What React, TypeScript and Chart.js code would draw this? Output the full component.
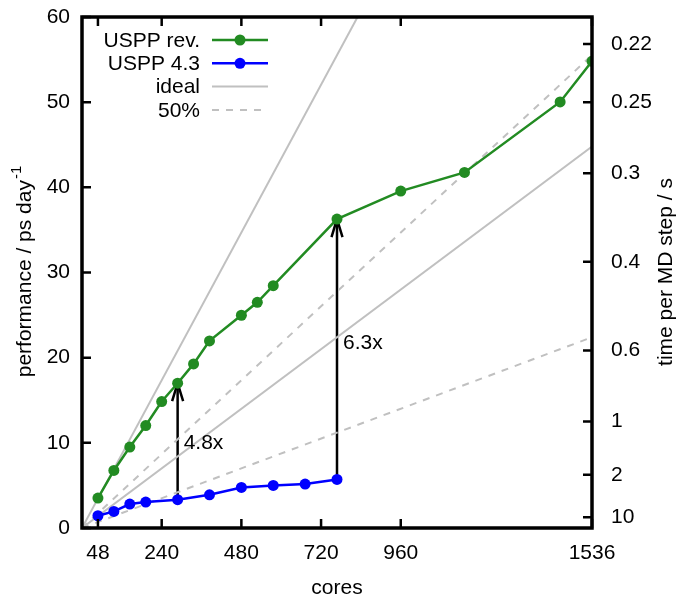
import React, { useEffect, useRef } from "react";
import { Chart, registerables } from "chart.js";

Chart.register(...registerables);

// ---- data ----
const revCores = [48, 96, 144, 192, 240, 288, 336, 384, 480, 528, 576, 768, 960, 1152, 1440, 1536];
const revPerf = [3.52, 6.76, 9.5, 12.03, 14.85, 17.0, 19.27, 21.97, 24.98, 26.5, 28.45, 36.27, 39.56, 41.75, 50.03, 54.8];
const oldCores = [48, 96, 144, 192, 288, 384, 480, 576, 672, 768];
const oldPerf = [1.44, 1.95, 2.81, 3.05, 3.32, 3.9, 4.76, 5.0, 5.16, 5.7];
const xTickValues = [48, 240, 480, 720, 960, 1536];
const leftTickValues = [0, 10, 20, 30, 40, 50, 60];
const timeTicks = [0.22, 0.25, 0.3, 0.4, 0.6, 1, 2, 10];
const timeFactor = 12.5; // performance = timeFactor / time per step
const idealPerfAt48 = [3.47, 1.4]; // USPP rev., USPP 4.3
const refCores = [0, 1536];
const speedupCores = [288, 768];
const speedupLabels = ["4.8x", "6.3x"];
const speedupLabelPerf = [10.0, 21.7];

const GREEN = "#228b22";
const BLUE = "#0000ff";
const GRAY = "#c0c0c0";
const FONT = "'Liberation Sans', Arial, sans-serif";
const FS = 21;

function refLine(base: number, frac: number) {
  return refCores.map((c) => ({ x: c, y: (base * frac * c) / 48 }));
}

const legendItems = [
  { label: "USPP rev.", color: GREEN, marker: true, dash: [] as number[] },
  { label: "USPP 4.3", color: BLUE, marker: true, dash: [] as number[] },
  { label: "ideal", color: GRAY, marker: false, dash: [] as number[] },
  { label: "50%", color: GRAY, marker: false, dash: [7, 7] },
];

const decorPlugin = {
  id: "decor",
  beforeDatasetsDraw(chart: any) {
    const ctx = chart.ctx;
    const xs = chart.scales.x;
    const ys = chart.scales.y;
    ctx.save();
    ctx.strokeStyle = "#000";
    ctx.lineWidth = 2.5;
    speedupCores.forEach((c) => {
      const lo = oldPerf[oldCores.indexOf(c)];
      const hi = revPerf[revCores.indexOf(c)];
      const x = xs.getPixelForValue(c);
      const y1 = ys.getPixelForValue(lo);
      const y2 = ys.getPixelForValue(hi);
      ctx.beginPath();
      ctx.moveTo(x, y1);
      ctx.lineTo(x, y2);
      ctx.stroke();
      ctx.beginPath();
      ctx.moveTo(x - 5.5, y2 + 18);
      ctx.lineTo(x, y2);
      ctx.lineTo(x + 5.5, y2 + 18);
      ctx.stroke();
    });
    ctx.restore();
  },
  afterDraw(chart: any) {
    const ctx = chart.ctx;
    const a = chart.chartArea;
    const xs = chart.scales.x;
    const ys = chart.scales.y;
    const y2s = chart.scales.y2;
    ctx.save();
    // speedup labels
    ctx.fillStyle = "#000";
    ctx.font = `${FS}px ${FONT}`;
    ctx.textAlign = "left";
    ctx.textBaseline = "middle";
    speedupCores.forEach((c, i) => {
      ctx.fillText(speedupLabels[i], xs.getPixelForValue(c) + 6, ys.getPixelForValue(speedupLabelPerf[i]));
    });
    // inward tick marks
    ctx.strokeStyle = "#000";
    ctx.lineWidth = 2.5;
    const tl = 9;
    ctx.beginPath();
    xTickValues.forEach((v) => {
      const x = xs.getPixelForValue(v);
      ctx.moveTo(x, a.bottom);
      ctx.lineTo(x, a.bottom - tl);
      ctx.moveTo(x, a.top);
      ctx.lineTo(x, a.top + tl);
    });
    leftTickValues.forEach((v) => {
      const y = ys.getPixelForValue(v);
      ctx.moveTo(a.left, y);
      ctx.lineTo(a.left + tl, y);
    });
    timeTicks.forEach((t) => {
      const y = y2s.getPixelForValue(timeFactor / t);
      ctx.moveTo(a.right, y);
      ctx.lineTo(a.right - tl, y);
    });
    ctx.stroke();
    // frame
    ctx.lineWidth = 3.5;
    ctx.strokeRect(a.left, a.top, a.right - a.left, a.bottom - a.top);
    // legend
    ctx.font = `${FS}px ${FONT}`;
    ctx.textAlign = "right";
    ctx.textBaseline = "middle";
    legendItems.forEach((it, i) => {
      const y = a.top + 23 + i * 23.3;
      ctx.fillStyle = "#000";
      ctx.fillText(it.label, a.left + 118, y + 1);
      ctx.strokeStyle = it.color;
      ctx.lineWidth = it.marker ? 2.5 : 2;
      ctx.setLineDash(it.dash);
      ctx.beginPath();
      ctx.moveTo(a.left + 130, y);
      ctx.lineTo(a.left + 186, y);
      ctx.stroke();
      ctx.setLineDash([]);
      if (it.marker) {
        ctx.fillStyle = it.color;
        ctx.beginPath();
        ctx.arc(a.left + 158, y, 5.5, 0, Math.PI * 2);
        ctx.fill();
      }
    });
    // axis titles
    ctx.fillStyle = "#000";
    ctx.textAlign = "center";
    ctx.textBaseline = "middle";
    ctx.fillText("cores", (a.left + a.right) / 2, 588);
    // right title
    ctx.save();
    ctx.translate(666, 272);
    ctx.rotate(-Math.PI / 2);
    ctx.fillText("time per MD step / s", 0, 0);
    ctx.restore();
    // left title with superscript
    ctx.save();
    ctx.translate(25, 272);
    ctx.rotate(-Math.PI / 2);
    const main = "performance / ps day";
    const sup = "-1";
    ctx.font = `${FS}px ${FONT}`;
    const w1 = ctx.measureText(main).width;
    ctx.font = `${Math.round(FS * 0.7)}px ${FONT}`;
    const w2 = ctx.measureText(sup).width;
    const start = -(w1 + w2) / 2;
    ctx.textAlign = "left";
    ctx.font = `${FS}px ${FONT}`;
    ctx.fillText(main, start, 0);
    ctx.font = `${Math.round(FS * 0.7)}px ${FONT}`;
    ctx.fillText(sup, start + w1 + 1, -8);
    ctx.restore();
    ctx.restore();
  },
};

export default function App() {
  const canvasRef = useRef<HTMLCanvasElement | null>(null);

  useEffect(() => {
    document.body.style.margin = "0";
    const canvas = canvasRef.current;
    if (!canvas) return;
    const zeroV = (s: any, w: number) => {
      s.width = w;
      s.paddingTop = 0;
      s.paddingBottom = 0;
    };
    const chart = new Chart(canvas, {
      type: "line",
      data: {
        datasets: [
          {
            label: "USPP rev.",
            data: revCores.map((c, i) => ({ x: c, y: revPerf[i] })),
            borderColor: GREEN,
            backgroundColor: GREEN,
            borderWidth: 2.5,
            pointRadius: 5.5,
            pointBorderWidth: 0,
            pointBackgroundColor: GREEN,
          },
          {
            label: "USPP 4.3",
            data: oldCores.map((c, i) => ({ x: c, y: oldPerf[i] })),
            borderColor: BLUE,
            backgroundColor: BLUE,
            borderWidth: 2.5,
            pointRadius: 5.5,
            pointBorderWidth: 0,
            pointBackgroundColor: BLUE,
          },
          {
            label: "ideal rev",
            data: refLine(idealPerfAt48[0], 1),
            borderColor: GRAY,
            borderWidth: 2,
            pointRadius: 0,
          },
          {
            label: "ideal 4.3",
            data: refLine(idealPerfAt48[1], 1),
            borderColor: GRAY,
            borderWidth: 2,
            pointRadius: 0,
          },
          {
            label: "50% rev",
            data: refLine(idealPerfAt48[0], 0.5),
            borderColor: GRAY,
            borderWidth: 2,
            borderDash: [7, 7],
            pointRadius: 0,
          },
          {
            label: "50% 4.3",
            data: refLine(idealPerfAt48[1], 0.5),
            borderColor: GRAY,
            borderWidth: 2,
            borderDash: [7, 7],
            pointRadius: 0,
          },
        ],
      },
      options: {
        animation: false,
        responsive: false,
        devicePixelRatio: 1,
        layout: { padding: { top: 17, left: 0, right: 0, bottom: 0 } },
        plugins: {
          legend: { display: false },
          tooltip: { enabled: false },
        },
        font: { family: FONT, size: FS },
        scales: {
          x: {
            type: "linear",
            min: 0,
            max: 1536,
            grid: { display: false, drawTicks: false },
            border: { display: false },
            afterBuildTicks: (s: any) => {
              s.ticks = xTickValues.map((v) => ({ value: v }));
            },
            afterFit: (s: any) => {
              s.height = 71;
              s.paddingLeft = 0;
              s.paddingRight = 0;
            },
            ticks: {
              color: "#000",
              font: { family: FONT, size: FS },
              padding: 13,
              maxRotation: 0,
              autoSkip: false,
              callback: (v: any) => String(v),
            },
          },
          y: {
            type: "linear",
            position: "left",
            min: 0,
            max: 60,
            grid: { display: false, drawTicks: false },
            border: { display: false },
            afterBuildTicks: (s: any) => {
              s.ticks = leftTickValues.map((v) => ({ value: v }));
            },
            afterFit: (s: any) => zeroV(s, 82),
            ticks: {
              color: "#000",
              font: { family: FONT, size: FS },
              padding: 12,
              autoSkip: false,
            },
          },
          y2: {
            type: "linear",
            position: "right",
            min: 0,
            max: 60,
            grid: { display: false, drawTicks: false },
            border: { display: false },
            afterBuildTicks: (s: any) => {
              s.ticks = timeTicks.map((t) => ({ value: timeFactor / t }));
            },
            afterFit: (s: any) => zeroV(s, 86),
            ticks: {
              color: "#000",
              font: { family: FONT, size: FS },
              padding: 19,
              autoSkip: false,
              callback: (_v: any, i: number) => String(timeTicks[i]),
            },
          },
        },
      } as any,
      plugins: [decorPlugin],
    });
    return () => chart.destroy();
  }, []);

  return (
    <div style={{ position: "fixed", left: 0, top: 0, width: 678, height: 599, background: "#fff" }}>
      <canvas ref={canvasRef} width={678} height={599} style={{ width: 678, height: 599 }} />
    </div>
  );
}
